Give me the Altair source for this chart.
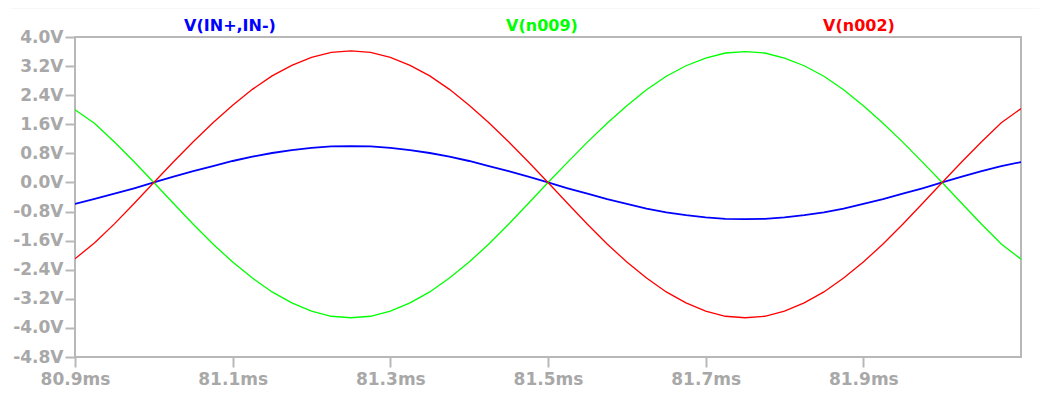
import altair as alt
import pandas as pd

times = [80.900, 80.925, 80.950, 80.975, 81.000, 81.025, 81.050, 81.075, 81.100,
         81.125, 81.150, 81.175, 81.200, 81.225, 81.250, 81.275, 81.300, 81.325,
         81.350, 81.375, 81.400, 81.425, 81.450, 81.475, 81.500, 81.525, 81.550,
         81.575, 81.600, 81.625, 81.650, 81.675, 81.700, 81.725, 81.750, 81.775,
         81.800, 81.825, 81.850, 81.875, 81.900, 81.925, 81.950, 81.975, 82.000,
         82.025, 82.050, 82.075, 82.100]

v_in = [-0.59, -0.45, -0.31, -0.16, 0.00, 0.16, 0.31, 0.45, 0.59,
        0.71, 0.81, 0.89, 0.95, 0.99, 1.00, 0.99, 0.95, 0.89,
        0.81, 0.71, 0.59, 0.45, 0.31, 0.16, 0.00, -0.16, -0.31,
        -0.46, -0.59, -0.72, -0.82, -0.90, -0.96, -1.00, -1.01, -1.00,
        -0.96, -0.90, -0.82, -0.72, -0.59, -0.46, -0.31, -0.16, 0.00,
        0.16, 0.31, 0.45, 0.56]

v_n002 = [-2.10, -1.66, -1.14, -0.58, 0.00, 0.57, 1.12, 1.64, 2.12,
          2.56, 2.93, 3.22, 3.44, 3.58, 3.62, 3.58, 3.44, 3.22,
          2.93, 2.56, 2.12, 1.64, 1.12, 0.57, 0.00, -0.58, -1.15,
          -1.69, -2.19, -2.63, -3.01, -3.31, -3.54, -3.68, -3.72, -3.68,
          -3.54, -3.31, -3.01, -2.63, -2.19, -1.69, -1.15, -0.58, 0.00,
          0.57, 1.12, 1.64, 2.03]

v_n009 = [2.00, 1.62, 1.11, 0.57, 0.00, -0.58, -1.15, -1.69, -2.19,
          -2.63, -3.01, -3.31, -3.54, -3.68, -3.72, -3.68, -3.54, -3.31,
          -3.01, -2.63, -2.19, -1.69, -1.15, -0.58, 0.00, 0.56, 1.11,
          1.63, 2.11, 2.55, 2.92, 3.21, 3.42, 3.56, 3.60, 3.56,
          3.42, 3.21, 2.92, 2.55, 2.11, 1.63, 1.11, 0.56, 0.00,
          -0.58, -1.15, -1.69, -2.11]

names = ["V(IN+,IN-)", "V(n009)", "V(n002)"]
colors = ["#0000ff", "#00ff00", "#ff0000"]
widths = [1.8, 1.3, 1.3]
series = [v_in, v_n009, v_n002]

x_ticks = [80.9, 81.1, 81.3, 81.5, 81.7, 81.9]
y_ticks = [4.0, 3.2, 2.4, 1.6, 0.8, 0.0, -0.8, -1.6, -2.4, -3.2, -4.0, -4.8]

FONT = "DejaVu Sans"
GRAY_TXT = "#a8a8a8"
GRAY_LN = "#b8b8b8"

x_scale = alt.Scale(domain=[80.9, 82.1], nice=False, zero=False)
y_scale = alt.Scale(domain=[-4.8, 4.0], nice=False, zero=False)


def x_axis():
    return alt.Axis(values=x_ticks, title=None, grid=False, domain=False,
                    labelExpr="format(datum.value, '.1f') + 'ms'",
                    tickSize=10, labelPadding=4, labelFlush=False,
                    labelOverlap=False)


def y_axis():
    return alt.Axis(values=y_ticks, title=None, grid=False, domain=False,
                    labelExpr="(datum.value < 0 ? '-' : '') + format(abs(datum.value), '.1f') + 'V'",
                    tickSize=10, labelPadding=2, labelOverlap=False)


layers = []
for name, vals, col, w in zip(names, series, colors, widths):
    df = pd.DataFrame({"t": times, "v": vals})
    layers.append(
        alt.Chart(df).mark_line(strokeWidth=w, color=col, clip=True).encode(
            x=alt.X("t:Q", scale=x_scale, axis=x_axis()),
            y=alt.Y("v:Q", scale=y_scale, axis=y_axis()),
            order=alt.Order("t:Q"),
        )
    )

label_x = [155, 467, 784]
labels = []
for name, col, lx in zip(names, colors, label_x):
    labels.append(
        alt.Chart(pd.DataFrame({"name": [name]})).mark_text(
            font=FONT, fontSize=16, fontWeight="bold", color=col,
            align="center", baseline="alphabetic"
        ).encode(x=alt.value(lx), y=alt.value(-6), text="name:N")
    )

band = alt.Chart(pd.DataFrame({"a": [0]})).mark_rule(
    color="#efefef", strokeWidth=3
).encode(x=alt.value(-64), x2=alt.value(972), y=alt.value(-30))

chart = alt.layer(*layers, band, *labels).properties(
    width=946, height=320,
    autosize=alt.AutoSizeParams(type="none"),
    padding={"left": 67, "top": 29, "right": 18, "bottom": 33},
    background="white",
).configure_view(
    stroke=GRAY_LN, strokeWidth=2
).configure_axis(
    labelFont=FONT, labelFontSize=17, labelFontWeight="bold",
    labelColor=GRAY_TXT, tickColor=GRAY_LN, tickWidth=2,
)

chart.save("out.html", embed_options={"renderer": "svg", "actions": False})
